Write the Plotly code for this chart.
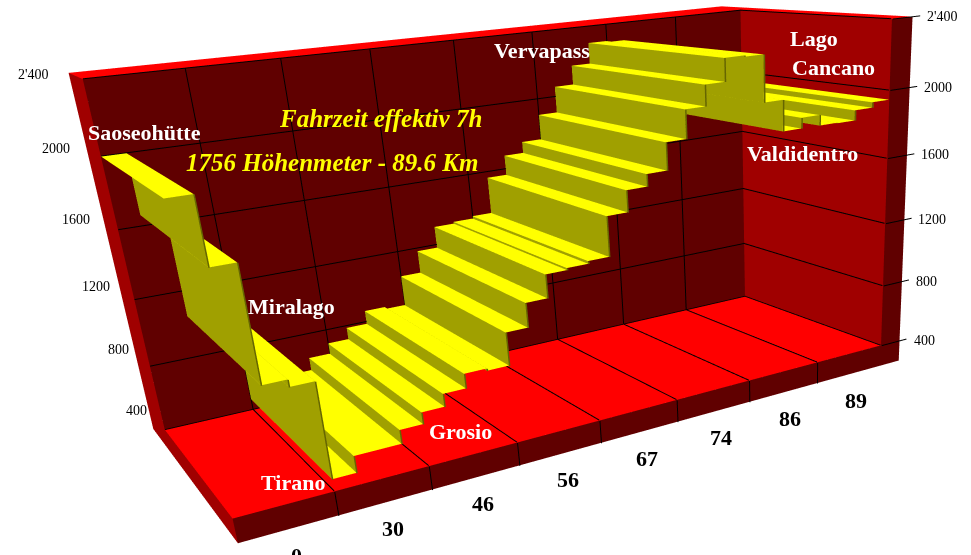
import plotly.graph_objects as go

# Route profile: category labels (km), altitude axis and altitude per quarter category
KM_LABELS = ["0", "30", "46", "56", "67", "74", "86", "89"]
ALT_TICKS = [400, 800, 1200, 1600, 2000, 2400]
ALT_LABELS = ["400", "800", "1200", "1600", "2000", "2'400"]
PROFILE = [2000, 1662, 1050, 1010, 470, 566, 566, 645, 712, 785, 868, 855, 1042, 1180, 1312, 1323,
           1338, 1562, 1682, 1750, 1902, 2060, 2175, 2300, 2293, 2035, 1860, 1920, 1860, 1857, 1915, 1946]
PLACES = ["Saoseohütte", "Miralago", "Tirano", "Grosio", "Vervapass", "Lago", "Cancano", "Valdidentro"]
NOTES = ["Fahrzeit effektiv 7h", "1756 Höhenmeter - 89.6 Km"]

# Text placement in page pixels
PLACE_XY = [(144, 132), (291, 306), (293, 482), (460, 431), (542, 50), (814, 39), (833, 67), (802, 153)]
NOTE_XY = [(380, 118), (332, 162)]

# Slab thickness of the walls and floor
TX, TY, ZB = 0.3, 0.3, 260
WIDTH, HEIGHT = 1280, 1040

RED, MAROON, DARK_RED = "#FF0000", "#600000", "#A00000"
YELLOW, OLIVE, DARK_OLIVE = "#FFFF00", "#A0A000", "#666600"

fig = go.Figure()


def quad(xs, ys, zs, color):
    fig.add_trace(go.Mesh3d(x=xs, y=ys, z=zs, i=[0, 0], j=[1, 2], k=[2, 3], color=color, flatshading=True,
                            lighting=dict(ambient=1, diffuse=0, specular=0, fresnel=0),
                            hoverinfo="skip", showscale=False))


def seg(xs, ys, zs, color="black", w=2):
    fig.add_trace(go.Scatter3d(x=xs, y=ys, z=zs, mode="lines", line=dict(color=color, width=w),
                               hoverinfo="skip", showlegend=False))


def page(u, v):
    return dict(x=u / WIDTH, y=1 - v / HEIGHT, xref="paper", yref="paper", xanchor="center", yanchor="middle")


N = len(KM_LABELS)
ztop, zfl = ALT_TICKS[-1], ALT_TICKS[0]
XR, YB = N + TX, 1 + TY

# Floor and walls
quad([0, N, N, 0], [0, 0, 1, 1], [zfl] * 4, RED)
quad([0, N, N, 0], [1, 1, 1, 1], [zfl, zfl, ztop, ztop], MAROON)
quad([N, N, N, N], [0, 1, 1, 0], [zfl, zfl, ztop, ztop], DARK_RED)
quad([0, XR, XR, 0], [1, 1, YB, YB], [ztop] * 4, RED)
quad([N, XR, XR, N], [0, 0, YB, YB], [ztop] * 4, RED)
quad([N, XR, XR, N], [0, 0, 0, 0], [ZB, ZB, ztop, ztop], MAROON)
quad([0, XR, XR, 0], [0, 0, 0, 0], [ZB, ZB, zfl, zfl], MAROON)
quad([0, 0, 0, 0], [1, YB, YB, 1], [ZB, ZB, ztop, ztop], DARK_RED)
quad([0, 0, 0, 0], [0, 1, 1, 0], [ZB, ZB, zfl, zfl], DARK_RED)

# Gridlines and tick marks
for a in ALT_TICKS:
    seg([0, N], [.995] * 2, [a + 2] * 2)
    seg([N - .01] * 2, [0, 1], [a + 2] * 2)
    seg([N, XR + .1], [-.005] * 2, [a] * 2)
for k in range(1, N):
    seg([k, k], [.995] * 2, [zfl, ztop])
    seg([k, k], [0, 1], [zfl + 3] * 2)
    seg([k, k], [-.005] * 2, [ZB, zfl])
seg([N, N], [0, 1], [zfl + 3] * 2)

# Stepped ribbon: treads at each altitude, risers between neighbouring altitudes
dx = N / len(PROFILE)
for i, a in enumerate(PROFILE):
    x0, x1 = i * dx, (i + 1) * dx
    quad([x0, x1, x1, x0], [0, 0, 1, 1], [a] * 4, YELLOW)
    if i + 1 < len(PROFILE):
        b = PROFILE[i + 1]
        quad([x1] * 4, [0, 1, 1, 0], [a, a, b, b], OLIVE)
        seg([x1, x1], [-.005] * 2, [a, b], DARK_OLIVE, 3)

# Axis labels anchored to the scene
SERIF = dict(family="Liberation Serif", color="black")
scene_notes = []
for k, lab in enumerate(KM_LABELS):
    scene_notes.append(dict(x=k + .5, y=0, z=ZB, text=lab, showarrow=False, xanchor="center", xshift=7, yshift=-26,
                            font=dict(SERIF, size=22, weight="bold")))
for a, lab in zip(ALT_TICKS, ALT_LABELS):
    scene_notes.append(dict(x=0, y=1, z=a, text=lab, showarrow=False, xanchor="right",
                            xshift=-32 + (ztop - a) * .008, yshift=5 + (ztop - a) * .007,
                            font=dict(SERIF, size=14)))
    scene_notes.append(dict(x=XR, y=0, z=a, text=lab, showarrow=False, xanchor="left", xshift=12,
                            font=dict(SERIF, size=14)))

hidden = dict(visible=False, showspikes=False)
fig.update_layout(
    width=WIDTH, height=HEIGHT, margin=dict(l=0, r=0, t=0, b=0), paper_bgcolor="white", showlegend=False,
    scene=dict(
        domain=dict(x=[0, 1], y=[0, 1]), aspectmode="manual",
        aspectratio=dict(x=1.9704, y=0.8849, z=0.942), annotations=scene_notes,
        xaxis=dict(hidden, range=[-.01, N + TX + .12]),
        yaxis=dict(hidden, range=[-.01, 1 + TY + .01]),
        zaxis=dict(hidden, range=[ZB - 5, ztop + 5]),
        camera=dict(eye=dict(x=-1.459, y=-3.0704, z=0.7567),
                    center=dict(x=0.1014, y=-0.3543, z=-0.7654),
                    up=dict(x=0.2673, y=0.3497, z=0.8979)),
    ),
)

# Place names and trip summary
for name, (u, v) in zip(PLACES, PLACE_XY):
    fig.add_annotation(text=name, showarrow=False,
                       font=dict(family="Liberation Serif", size=22, color="white", weight="bold"), **page(u, v))
for note, (u, v) in zip(NOTES, NOTE_XY):
    fig.add_annotation(text=note, showarrow=False,
                       font=dict(family="Liberation Serif", size=25, color=YELLOW, weight="bold", style="italic"),
                       **page(u, v))

# The scene is centred on the vanishing geometry, so the plot area runs past the window edge
fig.write_html("out.html",
               post_script="document.documentElement.style.overflow='hidden';document.body.style.overflow='hidden';")
